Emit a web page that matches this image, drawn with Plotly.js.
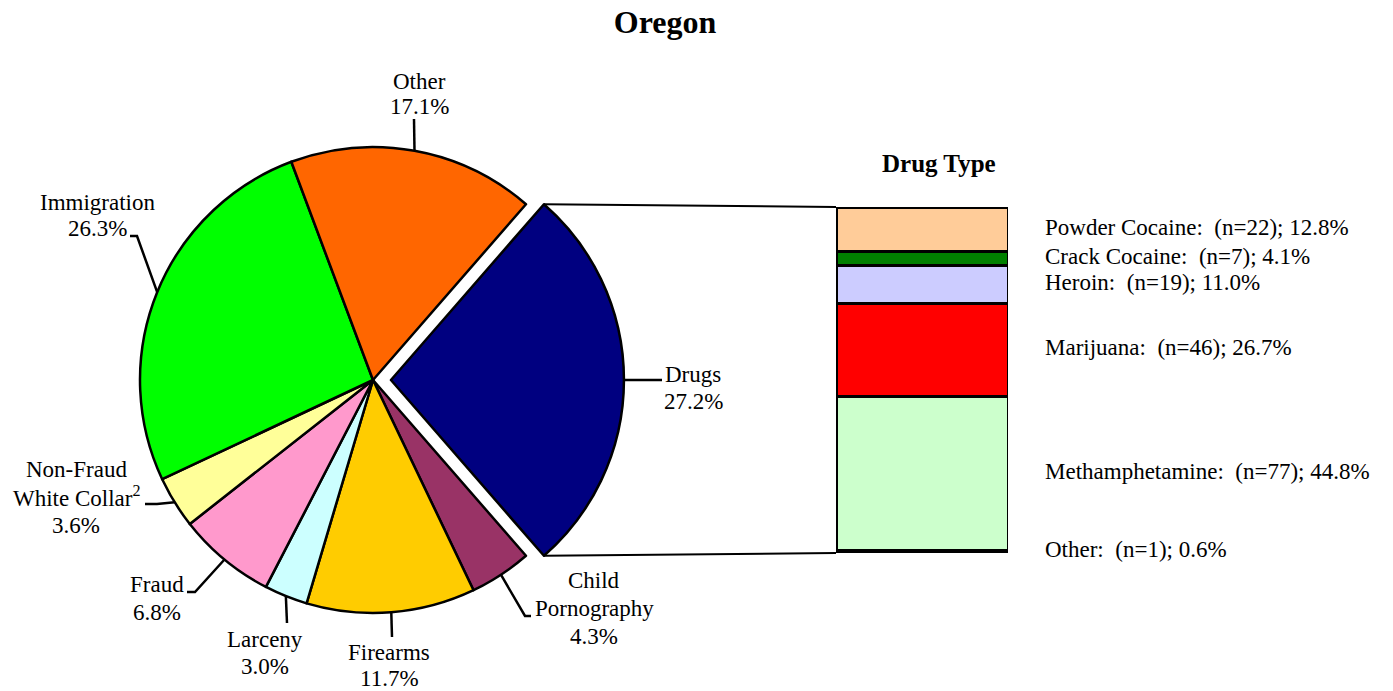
<!DOCTYPE html>
<html><head><meta charset="utf-8">
<script src="https://cdn.plot.ly/plotly-3.0.1.min.js"></script>
<style>html,body{margin:0;padding:0;background:#fff;overflow:hidden}#chart{width:1393px;height:691px}</style>
</head><body><div id="chart"></div>
<script>
// ---- data ----
const offenseNames = ['Drugs','Child Pornography','Firearms','Larceny','Fraud','Non-Fraud White Collar','Immigration','Other'];
const offenseLabelLines = [['Drugs'],['Child','Pornography'],['Firearms'],['Larceny'],['Fraud'],['Non-Fraud','White Collar<sup>2</sup>'],['Immigration'],['Other']];
const offensePct = [27.2, 4.3, 11.7, 3.0, 6.8, 3.6, 26.3, 17.1];
const offenseColors = ['#000080','#993366','#FFCC00','#CCFFFF','#FF99CC','#FFFF99','#00FF00','#FF6600'];

const drugNames = ['Powder Cocaine','Crack Cocaine','Heroin','Marijuana','Methamphetamine','Other'];
const drugCounts = [22, 7, 19, 46, 77, 1];
const drugPct = [12.8, 4.1, 11.0, 26.7, 44.8, 0.6];
const drugColors = ['#FFCC99','#008000','#CCCCFF','#FF0000','#CCFFCC','#003300'];

const chartTitle = 'Oregon';
const barTitle = 'Drug Type';

// ---- layout geometry (pixels) ----
const W = 1393, H = 691;
const FONT = 'Liberation Serif, Times New Roman, serif';
const pie = {cx: 373, cy: 380, r: 233, pull: 0.077};
const bar = {x0: 836, x1: 1008, y0: 207, y1: 553, labelX: 1043};
// label placement per slice: leader path points after the slice edge, text centre x, text line centres y
const labelSpec = [
  {path: [[662,380]], x: 693, y: [374,402]},
  {path: [[525,616],[531,616]], x: 594, y: [580,608,636]},
  {path: [[392,637]], x: 389, y: [652,678]},
  {path: [[287,623]], x: 265, y: [639,666]},
  {path: [[195,592],[187,592]], x: 157, y: [584,612]},
  {path: [[157,504],[145,504]], x: 76, y: [469,497,525]},
  {path: [[137,236],[130,236]], x: 97, y: [202,229]},
  {path: [[414,119]], x: 419, y: [81,107]}
];

const px = x => x / W;
const py = y => 1 - y / H;

// ---- pie geometry derived from data ----
const total = offensePct.reduce((a,b)=>a+b,0);
const rotation = 90 - offensePct[0] / total * 360 / 2;
const pulls = offensePct.map((v,i)=> i === 0 ? pie.pull : 0);
const half = pie.r * (1 + pie.pull);

function pt(angleDeg, rad, off) {
  const a = angleDeg * Math.PI / 180;
  return [pie.cx + (off ? off[0] : 0) + rad * Math.sin(a), pie.cy + (off ? off[1] : 0) - rad * Math.cos(a)];
}

const shapes = [];
const annotations = [];
let cum = 0;
offensePct.forEach((v, i) => {
  const a0 = rotation + cum / total * 360;
  const a1 = rotation + (cum + v) / total * 360;
  const mid = (a0 + a1) / 2;
  cum += v;
  const m = mid * Math.PI / 180;
  const off = [pulls[i] * pie.r * Math.sin(m), -pulls[i] * pie.r * Math.cos(m)];
  const e = pt(mid, pie.r, off);
  const spec = labelSpec[i];
  let d = 'M ' + px(e[0]) + ' ' + py(e[1]);
  spec.path.forEach(p => { d += ' L ' + px(p[0]) + ' ' + py(p[1]); });
  shapes.push({type: 'path', xref: 'paper', yref: 'paper', path: d, line: {color: '#000', width: 2.5}});
  const lines = offenseLabelLines[i].concat([v.toFixed(1) + '%']);
  lines.forEach((t, k) => {
    annotations.push({xref: 'paper', yref: 'paper', x: px(spec.x), y: py(spec.y[k]), xanchor: 'center', yanchor: 'middle',
      text: t, showarrow: false, borderpad: 0, font: {family: FONT, size: 23, color: '#000'}});
  });
  if (i === 0) {
    const s = pt(a0, pie.r, off), f = pt(a1, pie.r, off);
    shapes.push({type: 'line', xref: 'paper', yref: 'paper', x0: px(s[0]), y0: py(s[1]), x1: px(bar.x0), y1: py(bar.y0), line: {color: '#000', width: 2}});
    shapes.push({type: 'line', xref: 'paper', yref: 'paper', x0: px(f[0]), y0: py(f[1]), x1: px(bar.x0), y1: py(bar.y1), line: {color: '#000', width: 2}});
  }
});

// ---- traces ----
const traces = [{
  type: 'pie', values: offensePct, labels: offenseNames, sort: false, direction: 'clockwise', rotation: rotation,
  pull: pulls, textinfo: 'none', hoverinfo: 'label+percent', showlegend: false,
  marker: {colors: offenseColors, line: {color: '#000', width: 2.5}},
  domain: {x: [px(pie.cx - half), px(pie.cx + half)], y: [py(pie.cy + half), py(pie.cy - half)]}
}];

const drugTotal = drugCounts.reduce((a,b)=>a+b,0);
for (let i = drugNames.length - 1; i >= 0; i--) {
  traces.push({type: 'bar', x: ['Drugs'], y: [drugCounts[i]], name: drugNames[i], xaxis: 'x2', yaxis: 'y2', width: 1,
    marker: {color: drugColors[i], line: {color: '#000', width: 3}}, showlegend: false, hoverinfo: 'name+y'});
}
// bar labels at segment centres (top-to-bottom order)
let stackTop = drugTotal;
drugNames.forEach((n, i) => {
  const c = stackTop - drugCounts[i] / 2;
  stackTop -= drugCounts[i];
  annotations.push({xref: 'paper', yref: 'y2', x: px(bar.labelX), y: c, yshift: 2, xanchor: 'left', yanchor: 'middle', showarrow: false,
    text: n + ':\u00A0 (n=' + drugCounts[i] + '); ' + drugPct[i].toFixed(1) + '%', font: {family: FONT, size: 23, color: '#000'}});
});
annotations.push({xref: 'paper', yref: 'paper', x: px(939), y: py(163), xanchor: 'center', yanchor: 'middle', showarrow: false,
  text: '<b>' + barTitle + '</b>', font: {family: FONT, size: 25, color: '#000'}});

const layout = {
  width: W, height: H, margin: {l: 0, r: 0, t: 0, b: 0}, paper_bgcolor: '#fff', plot_bgcolor: '#fff',
  title: {text: '<b>' + chartTitle + '</b>', font: {family: FONT, size: 32, color: '#000'}, x: px(665), xanchor: 'center', y: py(22), yanchor: 'middle'},
  barmode: 'stack', bargap: 0,
  xaxis: {visible: false}, yaxis: {visible: false},
  xaxis2: {domain: [px(bar.x0), px(bar.x1)], range: [-0.5, 0.5], visible: false, anchor: 'y2', fixedrange: true},
  yaxis2: {domain: [py(bar.y1), py(bar.y0)], range: [0, drugTotal], visible: false, anchor: 'x2', fixedrange: true},
  shapes: shapes, annotations: annotations, showlegend: false
};
Plotly.newPlot('chart', traces, layout, {displayModeBar: false, staticPlot: true});
</script></body></html>
